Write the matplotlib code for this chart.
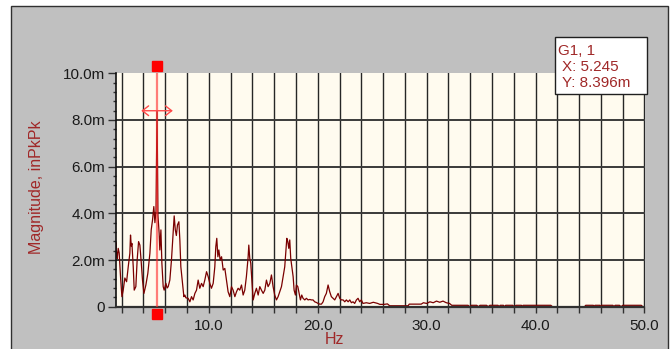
import matplotlib
matplotlib.use('Agg')
import matplotlib.pyplot as plt
from matplotlib.patches import Rectangle
from matplotlib.ticker import MultipleLocator, FixedLocator, FuncFormatter

plt.rcParams['font.family'] = ['Liberation Sans', 'DejaVu Sans']

# spectrum, magnitude in milli-in peak-to-peak
freq_hz = [
    1.45, 1.47, 1.53, 1.59, 1.68, 1.77, 1.90, 2.02, 2.14, 2.29, 2.45, 2.60, 2.75, 2.81, 2.88, 2.94,
    3.06, 3.15, 3.30, 3.42, 3.55, 3.67, 3.79, 3.91, 4.04, 4.22, 4.40, 4.59, 4.71, 4.83, 4.95, 5.05,
    5.15, 5.245, 5.33, 5.44, 5.50, 5.60, 5.69, 5.81, 5.90, 6.06, 6.17, 6.27, 6.42, 6.57, 6.68, 6.82,
    6.92, 7.02, 7.12, 7.25, 7.34, 7.43, 7.58, 7.71, 7.80, 7.89, 8.10, 8.26, 8.41, 8.56, 8.72, 8.87,
    9.02, 9.17, 9.33, 9.48, 9.63, 9.79, 9.94, 10.09, 10.24, 10.40, 10.55, 10.64, 10.73, 10.83, 10.92,
    11.04, 11.17, 11.32, 11.47, 11.62, 11.77, 11.93, 12.08, 12.23, 12.39, 12.54, 12.69, 12.84, 13.00,
    13.15, 13.30, 13.45, 13.61, 13.67, 13.76, 13.85, 13.97, 14.07, 14.22, 14.37, 14.53, 14.68, 14.83,
    14.99, 15.14, 15.29, 15.44, 15.60, 15.75, 15.90, 16.05, 16.21, 16.36, 16.51, 16.67, 16.82, 16.97,
    17.06, 17.16, 17.25, 17.34, 17.43, 17.52, 17.62, 17.74, 17.83, 17.95, 18.04, 18.17, 18.29, 18.41,
    18.53, 18.65, 18.81, 18.96, 19.11, 19.27, 19.42, 19.57, 19.72, 19.88, 20.03, 20.18, 20.34, 20.49,
    20.64, 20.79, 20.95, 21.10, 21.25, 21.41, 21.56, 21.71, 21.87, 22.02, 22.17, 22.33, 22.48, 22.63,
    22.79, 22.94, 23.09, 23.24, 23.39, 23.55, 23.70, 23.85, 24.00, 24.15, 24.46, 24.77, 25.10, 25.50,
    25.70, 26.10, 26.40, 26.60, 27.50, 28.30, 28.40, 29.50, 29.70, 30.00, 30.30, 30.60, 30.90, 31.20,
    31.50, 31.80, 32.10, 32.30, 33.80, 33.95, 34.10, 34.60, 34.75, 34.90, 35.50, 35.65, 35.80, 36.55,
    36.65, 36.75, 37.05, 37.15, 37.25, 37.90, 38.05, 38.20, 38.70, 38.75, 38.85, 41.40, 41.55, 44.50,
    44.60, 45.30, 45.35, 45.45, 45.90, 45.95, 46.05, 47.10, 47.20, 47.30, 47.70, 47.85, 48.00, 49.70,
    49.85, 50.00,
]
mag_m = [
    2.50, 2.75, 2.30, 2.07, 2.50, 2.30, 1.23, 0.43, 0.71, 1.23, 1.07, 1.71, 2.29, 3.07, 2.60, 2.71,
    1.71, 0.71, 0.86, 2.00, 2.79, 2.64, 1.93, 1.14, 0.57, 0.93, 1.43, 2.29, 3.29, 3.71, 4.29, 3.60,
    4.10, 8.396, 3.90, 3.14, 2.43, 3.29, 1.86, 0.86, 0.71, 1.00, 0.80, 0.86, 1.14, 2.00, 2.86, 3.89,
    3.30, 3.05, 3.50, 3.64, 2.86, 1.71, 1.00, 0.43, 0.50, 0.38, 0.36, 0.21, 0.43, 0.29, 0.57, 0.71,
    1.14, 0.79, 1.00, 0.86, 1.14, 1.50, 1.29, 1.00, 0.79, 1.00, 1.71, 2.57, 2.93, 2.14, 2.43,
    2.00, 2.14, 1.57, 1.64, 1.14, 0.64, 0.43, 0.86, 0.71, 0.43, 0.64, 0.79, 0.71, 0.93,
    0.50, 0.71, 1.29, 2.14, 2.64, 2.07, 1.86, 1.00, 0.29, 0.57, 0.79, 0.50, 0.86, 0.71,
    0.57, 0.71, 1.14, 0.86, 1.00, 1.36, 0.86, 0.50, 0.29, 0.43, 0.64, 0.86, 1.29, 1.71,
    2.29, 2.93, 2.79, 2.50, 2.86, 2.07, 1.71, 1.29, 0.71, 0.50, 0.93, 0.86, 0.57, 0.29,
    0.50, 0.36, 0.29, 0.36, 0.29, 0.31, 0.29, 0.29, 0.21, 0.18, 0.14, 0.11, 0.11, 0.21,
    0.43, 0.57, 0.93, 0.64, 0.43, 0.36, 0.29, 0.43, 0.57, 0.36, 0.29, 0.29, 0.21, 0.29,
    0.21, 0.29, 0.17, 0.21, 0.14, 0.29, 0.36, 0.21, 0.29, 0.14, 0.17, 0.14, 0.19, 0.14,
    0.10, 0.10, 0.12, 0.04, 0.04, 0.04, 0.11, 0.11, 0.17, 0.14, 0.21, 0.17, 0.24, 0.19,
    0.24, 0.17, 0.14, 0.06, 0.06, 0.00, 0.06, 0.06, 0.00, 0.06, 0.06, 0.00, 0.06, 0.06,
    0.00, 0.06, 0.06, 0.00, 0.06, 0.06, 0.00, 0.06, 0.06, 0.00, 0.06, 0.06, 0.00, 0.00,
    0.06, 0.06, 0.00, 0.06, 0.06, 0.00, 0.06, 0.06, 0.00, 0.06, 0.06, 0.00, 0.06, 0.06,
    0.00, 0.00,
]

cursor_x = 5.245
cursor_y = 8.396

x_labels = [10, 20, 30, 40, 50]
y_labels = [0, 2, 4, 6, 8, 10]

W, H = 672, 349
fig = plt.figure(figsize=(W / 100, H / 100), dpi=100)
fig.patch.set_facecolor('white')

# grey window panel behind the plot
fig.add_artist(Rectangle((11 / W, -0.05), (668 - 11) / W, (H - 6) / H + 0.05,
                         transform=fig.transFigure, facecolor='#c0c0c0',
                         edgecolor='#303030', lw=1, zorder=-1))

ax = fig.add_axes([115.7 / W, (H - 306.7) / H, (644.5 - 115.7) / W, (306.7 - 73.3) / H])
ax.set_facecolor('#fffbef')
ax.set_xlim(1.45, 50)
ax.set_ylim(0, 10)

# grid: every 2 Hz, every 2 m
for gx in range(2, 51, 2):
    ax.axvline(gx, color='#262626', lw=1.0, zorder=1)
for gy in y_labels[1:-1]:
    ax.axhline(gy, color='#3a3a3a', lw=1.4, zorder=1)

ax.plot(freq_hz, mag_m, color='#7a0000', lw=0.9, zorder=2)

# cursor
ax.axvline(cursor_x, color='#ff2a2a', alpha=0.6, lw=1.6, zorder=3)
ax.plot([cursor_x, cursor_x], [1.03, -0.03], 's', color='#ff0000', ms=7.5,
        transform=ax.get_xaxis_transform(), clip_on=False, zorder=5)
ax.annotate('', xy=(cursor_x + 1.45, cursor_y), xytext=(cursor_x - 1.45, cursor_y),
            arrowprops=dict(arrowstyle='<->,head_length=0.45,head_width=0.35',
                            color='#ff4a4a', lw=1, shrinkA=0, shrinkB=0), zorder=4)

ax.xaxis.set_major_locator(FixedLocator(x_labels))
ax.xaxis.set_minor_locator(MultipleLocator(2))
ax.xaxis.set_major_formatter(FuncFormatter(lambda v, p: f'{v:.1f}'))
ax.yaxis.set_major_locator(FixedLocator(y_labels))
ax.yaxis.set_minor_locator(MultipleLocator(0.4))
ax.yaxis.set_major_formatter(FuncFormatter(lambda v, p: '0' if v == 0 else f'{v:.1f}m'))

ax.tick_params(axis='both', which='both', direction='out', color='#303030', width=1,
               labelsize=11, labelcolor='#1a1a1a')
ax.tick_params(axis='x', which='both', length=4, pad=5)
ax.tick_params(axis='y', which='major', length=6, pad=1.5)
ax.tick_params(axis='y', which='minor', length=2.5)

ax.spines['top'].set_visible(False)
ax.spines['right'].set_visible(False)
ax.spines['left'].set_color('#101010')
ax.spines['left'].set_linewidth(1.2)
ax.spines['bottom'].set_color('#303030')
ax.spines['bottom'].set_linewidth(1.6)

label_color = '#a02828'
fig.text(37 / W, (H - 187.5) / H, 'Magnitude, inPkPk', rotation=90, ha='center', va='center',
         color=label_color, fontsize=11.5)
fig.text(334 / W, (H - 340) / H, 'Hz', ha='center', va='center', color=label_color, fontsize=11.5)

# cursor readout box
fig.add_artist(Rectangle((555.3 / W, (H - 94.3) / H), (646.7 - 555.3) / W, (94.3 - 37.3) / H,
                         transform=fig.transFigure, facecolor='white', edgecolor='#202020',
                         lw=1, zorder=6))
fig.text(557.5 / W, (H - 51) / H, 'G1, 1', va='center', color=label_color, fontsize=11, zorder=7)
fig.text(562.5 / W, (H - 67) / H, f'X: {cursor_x:.3f}', va='center', color=label_color,
         fontsize=11, zorder=7)
fig.text(562.5 / W, (H - 83) / H, f'Y: {cursor_y:.3f}m', va='center', color=label_color,
         fontsize=11, zorder=7)

fig.savefig('out.png', dpi=100)
